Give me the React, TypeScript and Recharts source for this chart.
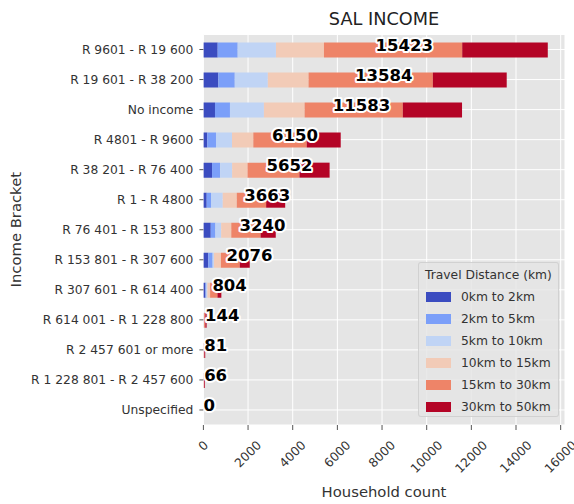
import React from "react";
import {
  ComposedChart,
  Bar,
  Line,
  XAxis,
  YAxis,
  CartesianGrid,
} from "recharts";

// income brackets, top to bottom
const categories = [
  "R 9601 - R 19 600",
  "R 19 601 - R 38 200",
  "No income",
  "R 4801 - R 9600",
  "R 38 201 - R 76 400",
  "R 1 - R 4800",
  "R 76 401 - R 153 800",
  "R 153 801 - R 307 600",
  "R 307 601 - R 614 400",
  "R 614 001 - R 1 228 800",
  "R 2 457 601 or more",
  "R 1 228 801 - R 2 457 600",
  "Unspecified",
];

const km0to2 = [640, 669, 519, 175, 387, 148, 330, 218, 90, 2, 1, 1, 0];
const km2to5 = [896, 736, 671, 389, 360, 193, 208, 196, 45, 3, 1, 1, 0];
const km5to10 = [1714, 1481, 1521, 717, 540, 526, 258, 58, 45, 6, 3, 2, 0];
const km10to15 = [2149, 1823, 1821, 954, 689, 628, 453, 312, 120, 18, 8, 6, 0];
const km15to30 = [6192, 5567, 4398, 2392, 2326, 1315, 1312, 846, 330, 60, 30, 24, 0];
const km30to50 = [3832, 3308, 2653, 1523, 1350, 853, 679, 446, 174, 55, 38, 32, 0];

const xTicks = [0, 2000, 4000, 6000, 8000, 10000, 12000, 14000, 16000];
const xMax = 16194;

const series = [
  { key: "km0to2", name: "0km to 2km", color: "#3b4cc0", values: km0to2 },
  { key: "km2to5", name: "2km to 5km", color: "#7b9ff9", values: km2to5 },
  { key: "km5to10", name: "5km to 10km", color: "#c0d4f5", values: km5to10 },
  { key: "km10to15", name: "10km to 15km", color: "#f2cbb7", values: km10to15 },
  { key: "km15to30", name: "15km to 30km", color: "#ee8468", values: km15to30 },
  { key: "km30to50", name: "30km to 50km", color: "#b40426", values: km30to50 },
];

const chartData = categories.map((cat, i) => {
  const row: any = { bracket: cat };
  let total = 0;
  series.forEach((s) => {
    row[s.key] = s.values[i];
    total += s.values[i];
  });
  row.total = total;
  row.half = total / 2;
  return row;
});

const FONT = "'DejaVu Sans', sans-serif";
const FS = 12.3;
const TEXT = "#333";

const YTick = (props: any) => {
  const { x, y, payload } = props;
  return (
    <text x={x} y={y} dy="0.35em" textAnchor="end" fontFamily={FONT} fontSize={FS} fill={TEXT}>
      {payload.value}
    </text>
  );
};

const XTick = (props: any) => {
  const { x, y, payload } = props;
  const label = String(payload.value);
  const w = label.length * 0.636 * FS;
  const cy = y + 10 + ((w + 9) * 0.707) / 2;
  return (
    <text
      x={x}
      y={cy}
      textAnchor="middle"
      dominantBaseline="central"
      transform={`rotate(-45 ${x} ${cy})`}
      fontFamily={FONT}
      fontSize={FS}
      fill={TEXT}
    >
      {label}
    </text>
  );
};

const renderTotal = (props: any) => {
  const { cx, cy, payload, index } = props;
  return (
    <text
      key={`total-${index}`}
      x={cx}
      y={cy + 1}
      textAnchor="start"
      fontFamily={FONT}
      fontWeight="bold"
      fontSize={16.5}
      fill="#000"
      stroke="#fff"
      strokeWidth={4}
      strokeLinejoin="round"
      paintOrder="stroke"
    >
      {payload.total}
    </text>
  );
};

export default function App() {
  return (
    <div style={{ position: "absolute", left: 0, top: 0, width: 574, height: 504, background: "#fff" }}>
      <ComposedChart
        width={574}
        height={504}
        data={chartData}
        layout="vertical"
        margin={{ top: 34.5, right: 9, bottom: 0, left: 0 }}
        barCategoryGap={0}
      >
        <CartesianGrid stroke="#fff" strokeWidth={1} fill="#e5e5e5" fillOpacity={1} />
        <XAxis
          type="number"
          domain={[0, xMax]}
          ticks={xTicks}
          interval={0}
          allowDataOverflow
          axisLine={false}
          tickLine={{ stroke: "#555" }}
          tickSize={5}
          tickMargin={0}
          tick={<XTick />}
          height={79}
        />
        <YAxis
          type="category"
          dataKey="bracket"
          width={203.4}
          axisLine={false}
          tickLine={{ stroke: "#555" }}
          tickSize={4}
          tickMargin={6}
          tick={<YTick />}
          interval={0}
        />
        {series.map((s) => (
          <Bar
            key={s.key}
            dataKey={s.key}
            name={s.name}
            stackId="dist"
            fill={s.color}
            barSize={15}
            isAnimationActive={false}
          />
        ))}
        <Line
          dataKey="half"
          stroke="none"
          dot={renderTotal}
          activeDot={false}
          legendType="none"
          isAnimationActive={false}
        />
        <text x={384} y={24.5} textAnchor="middle" fontFamily={FONT} fontSize={17.7} fill="#222">
          SAL INCOME
        </text>
        <text x={384} y={497} textAnchor="middle" fontFamily={FONT} fontSize={14.8} fill={TEXT}>
          Household count
        </text>
        <text
          x={16}
          y={229.7}
          textAnchor="middle"
          dominantBaseline="central"
          transform="rotate(-90 16 229.7)"
          fontFamily={FONT}
          fontSize={14.8}
          fill={TEXT}
        >
          Income Bracket
        </text>
      </ComposedChart>
      <div
        style={{
          position: "absolute",
          left: 418,
          top: 262,
          width: 141,
          height: 155,
          boxSizing: "border-box",
          background: "rgba(229,229,229,0.8)",
          border: "1px solid rgba(204,204,204,0.8)",
          borderRadius: 3,
          fontFamily: FONT,
          fontSize: FS,
          color: TEXT,
        }}
      >
        <div style={{ position: "absolute", left: 6, top: 5, whiteSpace: "nowrap" }}>Travel Distance (km)</div>
        {series.map((s, i) => (
          <div
            key={s.key}
            style={{
              position: "absolute",
              left: 7,
              top: 26 + i * 21.9,
              display: "flex",
              alignItems: "center",
              whiteSpace: "nowrap",
              height: 16,
            }}
          >
            <div style={{ width: 24.5, height: 10, background: s.color, marginRight: 10.5 }} />
            <span>{s.name}</span>
          </div>
        ))}
      </div>
    </div>
  );
}
